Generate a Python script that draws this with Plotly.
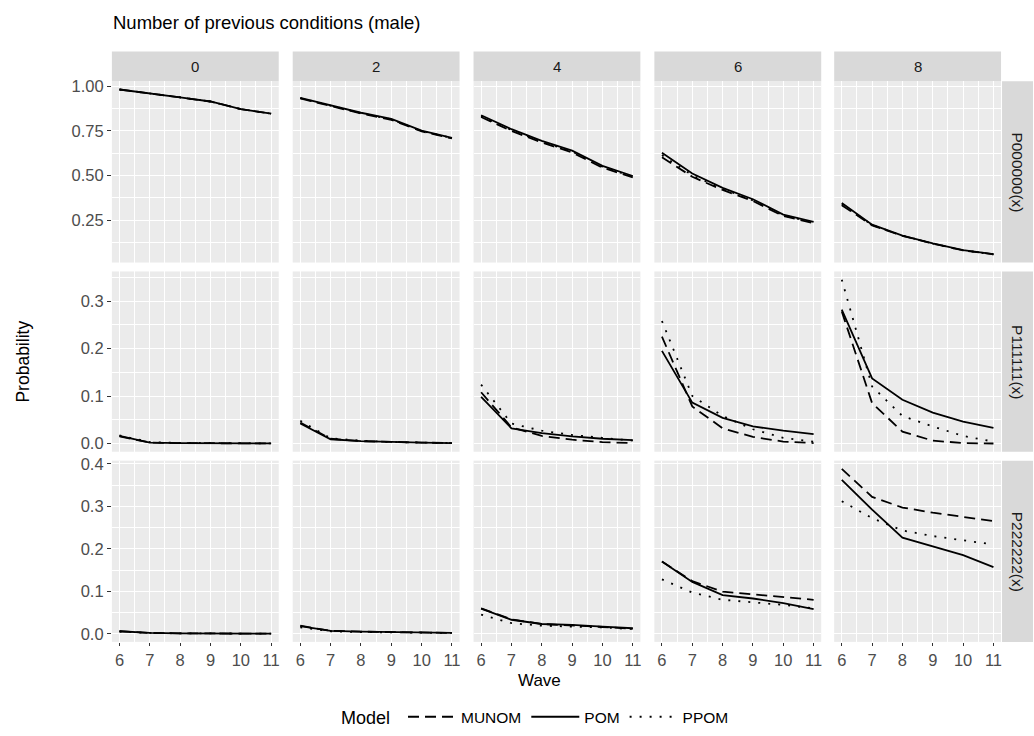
import plotly.graph_objects as go

# ---------------- data ----------------
waves = [6, 7, 8, 9, 10, 11]
conditions = ["0", "2", "4", "6", "8"]
probabilities = ["P000000(x)", "P111111(x)", "P222222(x)"]
models = ["MUNOM", "POM", "PPOM"]

# each list: one sub-list per condition (0, 2, 4, 6, 8), values per wave 6..11
P000000_MUNOM = [
    [0.982, 0.958, 0.938, 0.915, 0.872, 0.847],
    [0.932, 0.888, 0.848, 0.812, 0.748, 0.708],
    [0.828, 0.750, 0.686, 0.630, 0.545, 0.490],
    [0.603, 0.494, 0.420, 0.358, 0.274, 0.234],
    [0.335, 0.222, 0.163, 0.120, 0.082, 0.060],
]
P000000_POM = [
    [0.982, 0.958, 0.938, 0.915, 0.872, 0.847],
    [0.935, 0.892, 0.852, 0.818, 0.752, 0.712],
    [0.838, 0.760, 0.695, 0.640, 0.555, 0.498],
    [0.628, 0.512, 0.432, 0.368, 0.282, 0.242],
    [0.347, 0.226, 0.165, 0.121, 0.083, 0.061],
]
P000000_PPOM = [
    [0.982, 0.958, 0.938, 0.915, 0.872, 0.847],
    [0.934, 0.890, 0.850, 0.815, 0.750, 0.710],
    [0.833, 0.755, 0.690, 0.635, 0.550, 0.494],
    [0.615, 0.502, 0.426, 0.362, 0.278, 0.238],
    [0.340, 0.224, 0.164, 0.120, 0.082, 0.060],
]
P111111_MUNOM = [
    [0.015, 0.002, 0.001, 0.0005, 0.0002, 0.0001],
    [0.044, 0.010, 0.005, 0.003, 0.002, 0.001],
    [0.108, 0.034, 0.016, 0.008, 0.003, 0.001],
    [0.225, 0.078, 0.032, 0.014, 0.004, 0.001],
    [0.278, 0.085, 0.025, 0.006, 0.001, 0.000],
]
P111111_POM = [
    [0.016, 0.002, 0.001, 0.0005, 0.0003, 0.0002],
    [0.042, 0.009, 0.005, 0.003, 0.002, 0.001],
    [0.098, 0.032, 0.022, 0.015, 0.010, 0.007],
    [0.195, 0.086, 0.054, 0.036, 0.027, 0.020],
    [0.282, 0.137, 0.092, 0.065, 0.046, 0.033],
]
P111111_PPOM = [
    [0.017, 0.003, 0.0015, 0.0008, 0.0004, 0.0003],
    [0.048, 0.011, 0.006, 0.003, 0.002, 0.001],
    [0.124, 0.042, 0.027, 0.018, 0.012, 0.006],
    [0.258, 0.100, 0.058, 0.030, 0.012, 0.004],
    [0.345, 0.120, 0.058, 0.036, 0.016, 0.004],
]
P222222_MUNOM = [
    [0.006, 0.002, 0.001, 0.001, 0.0005, 0.0003],
    [0.019, 0.007, 0.005, 0.004, 0.003, 0.002],
    [0.060, 0.034, 0.023, 0.020, 0.016, 0.012],
    [0.170, 0.124, 0.099, 0.093, 0.087, 0.080],
    [0.388, 0.322, 0.297, 0.285, 0.275, 0.265],
]
P222222_POM = [
    [0.006, 0.002, 0.001, 0.001, 0.0005, 0.0003],
    [0.018, 0.007, 0.005, 0.004, 0.003, 0.002],
    [0.059, 0.033, 0.023, 0.021, 0.017, 0.013],
    [0.170, 0.122, 0.091, 0.083, 0.072, 0.058],
    [0.362, 0.292, 0.226, 0.205, 0.185, 0.157],
]
P222222_PPOM = [
    [0.005, 0.002, 0.001, 0.001, 0.0005, 0.0003],
    [0.015, 0.006, 0.004, 0.003, 0.003, 0.002],
    [0.045, 0.025, 0.019, 0.017, 0.015, 0.011],
    [0.128, 0.097, 0.080, 0.074, 0.068, 0.060],
    [0.312, 0.272, 0.243, 0.230, 0.220, 0.210],
]

row_ticks = [[0.25, 0.50, 0.75, 1.00], [0.0, 0.1, 0.2, 0.3], [0.0, 0.1, 0.2, 0.3, 0.4]]
row_ticktext = [["0.25", "0.50", "0.75", "1.00"], ["0.0", "0.1", "0.2", "0.3"],
                ["0.0", "0.1", "0.2", "0.3", "0.4"]]
row_minor = [[0.125, 0.375, 0.625, 0.875], [0.05, 0.15, 0.25, 0.35],
             [0.05, 0.15, 0.25, 0.35]]

series = [
    {"MUNOM": P000000_MUNOM, "POM": P000000_POM, "PPOM": P000000_PPOM},
    {"MUNOM": P111111_MUNOM, "POM": P111111_POM, "PPOM": P111111_PPOM},
    {"MUNOM": P222222_MUNOM, "POM": P222222_POM, "PPOM": P222222_PPOM},
]

# ---------------- layout geometry ----------------
W, H = 1034, 736
col_px = [(112, 279), (293, 460), (474, 641), (655, 822), (835, 1002)]
row_px = [(76, 259), (268, 450), (459, 642)]
strip_top = 46
strip_right = (1003, 1034)

def fx(px):
    return px / W

def fy(py):
    return 1 - py / H

FONT = "Liberation Sans, Arial, sans-serif"
dash_style = {"MUNOM": "11px,6px", "POM": "solid", "PPOM": "2px,8px"}

def yrange(r):
    vals = [v for m in models for cl in series[r][m] for v in cl]
    lo, hi = min(vals), max(vals)
    pad = (hi - lo) * 0.05
    return [lo - pad, hi + pad]

fig = go.Figure()
layout = {}
for r in range(3):
    yr = yrange(r)
    for c in range(5):
        k = r * 5 + c + 1
        xa = "x" if k == 1 else f"x{k}"
        ya = "y" if k == 1 else f"y{k}"
        for m in models:
            fig.add_trace(go.Scatter(
                x=waves, y=series[r][m][c], mode="lines", name=m,
                legendgroup=m, showlegend=(k == 1), hoverinfo="skip",
                line=dict(color="black", width=1.8, dash=dash_style[m]),
                xaxis=xa, yaxis=ya))
        x0, x1 = col_px[c]
        y0, y1 = row_px[r]
        bottom = (r == 2)
        left = (c == 0)
        layout[f"xaxis{k}"] = dict(
            domain=[fx(x0), fx(x1)], anchor=ya, range=[5.75, 11.25],
            tickvals=waves, ticktext=[str(w) for w in waves],
            showticklabels=bottom, ticks="outside" if bottom else "",
            ticklen=3, tickwidth=1.2, tickcolor="#333333",
            tickfont=dict(family=FONT, size=16.5, color="#4D4D4D"),
            showgrid=True, gridcolor="white", gridwidth=1.4,
            minor=dict(tickvals=[6.5, 7.5, 8.5, 9.5, 10.5], showgrid=True,
                       gridcolor="white", gridwidth=0.7, ticks=""),
            zeroline=False, showline=False, fixedrange=True)
        layout[f"yaxis{k}"] = dict(
            domain=[fy(y1), fy(y0)], anchor=xa, range=yr,
            tickvals=row_ticks[r], ticktext=row_ticktext[r],
            showticklabels=left, ticks="outside" if left else "",
            ticklen=4, tickwidth=1.2, tickcolor="#333333",
            tickfont=dict(family=FONT, size=16.5, color="#4D4D4D"),
            showgrid=True, gridcolor="white", gridwidth=1.4,
            minor=dict(tickvals=row_minor[r], showgrid=True,
                       gridcolor="white", gridwidth=0.7, ticks=""),
            zeroline=False, showline=False, fixedrange=True)

shapes = []
annotations = []
# top strips
for c, cond in enumerate(conditions):
    x0, x1 = col_px[c]
    shapes.append(dict(type="rect", xref="paper", yref="paper", x0=fx(x0), x1=fx(x1),
                       y0=fy(row_px[0][0]), y1=fy(strip_top),
                       fillcolor="#D9D9D9", line=dict(width=0), layer="below"))
    annotations.append(dict(text=cond, xref="paper", yref="paper",
                            x=fx((x0 + x1) / 2), y=fy((strip_top + row_px[0][0]) / 2),
                            showarrow=False, xanchor="center", yanchor="middle",
                            font=dict(family=FONT, size=15, color="#1A1A1A")))
# right strips
for r, prob in enumerate(probabilities):
    y0, y1 = row_px[r]
    shapes.append(dict(type="rect", xref="paper", yref="paper",
                       x0=fx(strip_right[0]), x1=fx(strip_right[1]),
                       y0=fy(y1), y1=fy(y0),
                       fillcolor="#D9D9D9", line=dict(width=0), layer="below"))
    annotations.append(dict(text=prob, xref="paper", yref="paper",
                            x=fx((strip_right[0] + strip_right[1]) / 2),
                            y=fy((y0 + y1) / 2), textangle=90,
                            showarrow=False, xanchor="center", yanchor="middle",
                            font=dict(family=FONT, size=15.5, color="#1A1A1A")))

# titles
annotations.append(dict(text="Number of previous conditions (male)", xref="paper", yref="paper",
                        x=fx(111), y=fy(17), xanchor="left", yanchor="middle", showarrow=False,
                        font=dict(family=FONT, size=18.5, color="black")))
annotations.append(dict(text="Wave", xref="paper", yref="paper",
                        x=fx(540), y=fy(681), xanchor="center", yanchor="middle",
                        showarrow=False, font=dict(family=FONT, size=17, color="black")))
annotations.append(dict(text="Probability", xref="paper", yref="paper",
                        x=fx(23), y=fy(359), xanchor="center", yanchor="middle",
                        textangle=-90, showarrow=False,
                        font=dict(family=FONT, size=17.5, color="black")))

fig.update_layout(
    width=W, height=H, margin=dict(l=0, r=0, t=0, b=0),
    paper_bgcolor="white", plot_bgcolor="#EBEBEB",
    shapes=shapes, annotations=annotations,
    legend=dict(orientation="h", x=fx(537), y=fy(718), xanchor="center", yanchor="middle",
                title=dict(text="Model ", font=dict(family=FONT, size=18, color="black")),
                font=dict(family=FONT, size=15.5, color="black"),
                bgcolor="rgba(0,0,0,0)", itemwidth=48, tracegroupgap=0),
    **layout,
)

post = ("document.body.style.margin='0';document.body.style.padding='0';"
        "document.body.style.overflow='hidden';"
        "var gd=document.getElementById('{plot_id}');"
        "gd.style.position='fixed';gd.style.left='0px';gd.style.top='0px';")
fig.write_html("out.html", post_script=post, config={"displayModeBar": False})
